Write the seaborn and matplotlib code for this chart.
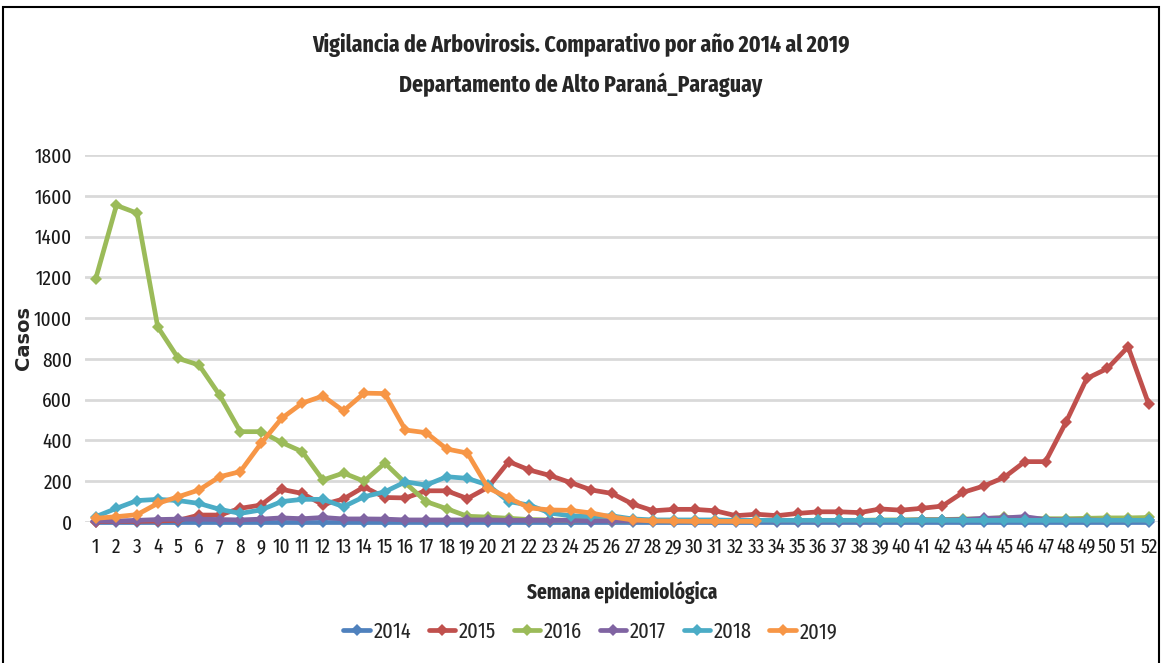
import pandas as pd
import matplotlib.pyplot as plt
import seaborn as sns
from matplotlib.patches import Rectangle
from matplotlib.lines import Line2D

# casos por semana epidemiologica
semanas = list(range(1, 53))
casos_2014 = [0] * 52
casos_2015 = [2, 3, 3, 5, 8, 34, 34, 67, 83, 160, 140, 85, 113, 172, 120, 118, 153, 153, 115, 170,
              296, 255, 228, 193, 157, 140, 88, 55, 62, 62, 55, 31, 38, 31, 42, 50, 50, 46, 64, 58,
              67, 78, 145, 176, 219, 296, 296, 491, 704, 753, 859, 578]
casos_2016 = [1194, 1553, 1515, 957, 802, 770, 622, 443, 443, 390, 345, 206, 240, 200, 289, 191, 100, 65, 28, 24,
              18, 12, 10, 8, 8, 6, 6, 6, 6, 6, 6, 6, 6, 8, 8, 8, 8, 8, 10, 10,
              12, 12, 14, 16, 22, 18, 16, 16, 18, 20, 20, 22]
casos_2017 = [5, 5, 8, 12, 14, 14, 12, 10, 14, 20, 16, 22, 15, 15, 14, 10, 10, 10, 10, 10,
              8, 8, 8, 8, 6, 6, 6, 6, 6, 6, 6, 6, 6, 6, 6, 6, 6, 6, 8, 8,
              10, 10, 12, 18, 20, 26, 12, 10, 10, 8, 8, 8]
casos_2018 = [26, 67, 105, 111, 105, 91, 62, 42, 59, 100, 111, 111, 75, 124, 148, 197, 181, 222, 214, 181,
              100, 83, 44, 30, 28, 30, 15, 10, 10, 10, 10, 8, 8, 8, 8, 8, 8, 8, 8, 8,
              8, 8, 8, 8, 8, 8, 8, 8, 8, 8, 8, 8]
casos_2019 = [18, 26, 36, 91, 124, 157, 222, 247, 385, 508, 583, 618, 545, 632, 630, 451, 438, 358, 338, 167,
              118, 69, 59, 57, 44, 25, 10, 5, 4, 3, 3, 3, 3]
anios = ['2014', '2015', '2016', '2017', '2018', '2019']
colores = ['#4F81BD', '#C0504D', '#9BBB59', '#8064A2', '#4BACC6', '#F79646']

series = [casos_2014, casos_2015, casos_2016, casos_2017, casos_2018, casos_2019]
filas = []
for anio, valores in zip(anios, series):
    for s, v in zip(semanas, valores):
        filas.append({'semana': s, 'casos': v, 'anio': anio})
df = pd.DataFrame(filas)

sns.set_style('white')
plt.rcParams['font.family'] = ['Fira Sans Extra Condensed', 'Barlow Condensed', 'DejaVu Sans']

fig = plt.figure(figsize=(11.62, 6.63), dpi=100)
ax = fig.add_axes([0.073, 0.2127, 0.925, 0.5535])

sns.lineplot(data=df, x='semana', y='casos', hue='anio', hue_order=anios,
             palette=dict(zip(anios, colores)), marker='D', markersize=6.5,
             markeredgewidth=0, linewidth=3.4, legend=False, ax=ax, clip_on=False)

ax.set_xlim(0.47, 52.53)
ax.set_ylim(0, 1800)
ax.set_yticks(range(0, 1801, 200))
ax.set_xticks(semanas)
ax.tick_params(axis='both', labelsize=15, length=0, colors='#1a1a1a')
ax.tick_params(axis='x', pad=11)
ax.tick_params(axis='y', pad=9)
ax.grid(axis='y', color='#D9D9D9', linewidth=2)
ax.set_axisbelow(True)
for sp in ax.spines.values():
    sp.set_visible(False)

ax.set_xlabel('Semana epidemiológica', fontsize=15, fontweight='bold', labelpad=17)
ax.set_ylabel('Casos', fontsize=14, fontweight='bold', labelpad=1,
              family=['DejaVu Sans'])

fig.suptitle('Vigilancia de Arbovirosis. Comparativo por año 2014 al 2019\nDepartamento de Alto Paraná_Paraguay',
             fontsize=17, fontweight='bold', y=0.95, linespacing=1.75)

handles = [Line2D([0], [0], color=c, linewidth=3.4, marker='D', markersize=6.5, markeredgewidth=0)
           for c in colores]
fig.legend(handles, anios, loc='center', bbox_to_anchor=(0.508, 0.047), ncol=6, frameon=False,
           fontsize=16, handlelength=1.2, handletextpad=0.15, columnspacing=0.8)

fig.patches.append(Rectangle((0.003, -0.01), 0.994, 1.0, transform=fig.transFigure,
                             fill=False, edgecolor='black', linewidth=1.5))

fig.savefig('out.png', dpi=100)
